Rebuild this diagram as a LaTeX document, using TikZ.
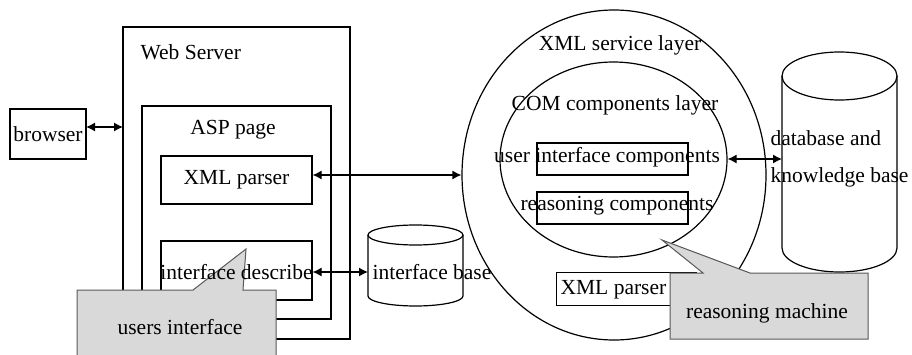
\documentclass[tikz,border=0pt]{standalone}
\usepackage{fontspec}
\setmainfont{Liberation Serif}
\usetikzlibrary{arrows.meta,shapes.geometric}
\definecolor{callgray}{HTML}{D9D9D9}
\begin{document}
\begin{tikzpicture}[x=1pt,y=1pt,
  line width=1.2pt,
  every node/.style={font=\fontsize{21.5}{24}\selectfont, inner sep=0pt},
  boxed/.style={draw, rectangle},
  biarrow/.style={{Latex[length=9pt,width=9pt]}-{Latex[length=9pt,width=9pt]}, line width=1.2pt},
  callout/.style={fill=callgray, draw=black!65, line width=1pt}]
\useasboundingbox (0,0) rectangle (912,354);
% Web server
\node[boxed, minimum width=227, minimum height=312] (web) at (236.5,171) {};
\node[anchor=west] (webl) at (140,302) {Web Server};
\node[boxed, minimum width=76, minimum height=50] (browser) at (48,220) {browser};
\node[boxed, minimum width=189, minimum height=213] (asp) at (236.5,141.5) {};
\node (aspl) at (233,224) {ASP page};
\node[boxed, minimum width=151, minimum height=48] (xmlp) at (236.5,174) {XML parser};
\node[boxed, minimum width=151, minimum height=59] (idesc) at (236.5,83.5) {};
\coordinate (bra) at (86,227);
\coordinate (wsa) at (123,227);
\draw[biarrow] (bra) -- (wsa);
% interface base cylinder
\coordinate (ibtl) at (368,119);
\coordinate (ibbl) at (368,58);
\coordinate (ibtr) at (463,119);
\draw[fill=white] (ibtl) -- (ibbl) arc[start angle=180,end angle=360,x radius=47.5,y radius=10] -- (ibtr);
\draw (415.5,119) ellipse[x radius=47.5,y radius=10];
\node[anchor=west] (ibase) at (372,82) {interface base};
\coordinate (ibw) at (368,82);
\draw[biarrow] (idesc.east |- ibw) -- (ibw);
% users interface callout
\draw[callout] (77,64) -- (193,64) -- (246,105) -- (243,64) -- (276,64) -- (276,-5) -- (77,-5) -- cycle;
\node (idescl) at (236.5,82) {interface describe};
\node (uil) at (180,27) {users interface};
% service layers
\node[draw, ellipse, minimum width=304, minimum height=330] (outer) at (614,179) {};
\node[draw, ellipse, minimum width=227, minimum height=195] (inner) at (613.5,194.5) {};
\node (outl) at (620,309) {XML service layer};
\node (innl) at (615,249) {COM components layer};
\node[boxed, minimum width=151, minimum height=32] (uic) at (612.5,195) {};
\node (uicl) at (607,197) {user interface components};
\node[boxed, minimum width=151, minimum height=32] (rc) at (612.5,146) {};
\node (rcl) at (617,148) {reasoning components};
\draw[biarrow] (xmlp.east |- outer.west) -- (outer.west);
% database cylinder
\coordinate (dbtl) at (782,278);
\coordinate (dbbl) at (782,106);
\coordinate (dbtr) at (897,278);
\draw (dbtl) -- (dbbl) arc[start angle=180,end angle=360,x radius=57.5,y radius=24] -- (dbtr);
\draw (839.5,278) ellipse[x radius=57.5,y radius=24];
\node[anchor=west] (dbl1) at (770,216) {database and};
\node[anchor=west] (dbl2) at (770,177) {knowledge base};
\coordinate (dbw) at (782,195);
\draw[biarrow] (inner.east |- dbw) -- (dbw);
% lower XML parser
\node[boxed, anchor=south west, minimum width=140, minimum height=33] (xmlp2) at (556,48) {};
\node[anchor=west] (xmlp2l) at (560,64) {XML parser};
% reasoning machine callout
\draw[callout] (670,81) -- (703,81) -- (662,114) -- (750,81) -- (868,81) -- (868,15) -- (670,15) -- cycle;
\node (rml) at (767,41) {reasoning machine};
\end{tikzpicture}
\end{document}
